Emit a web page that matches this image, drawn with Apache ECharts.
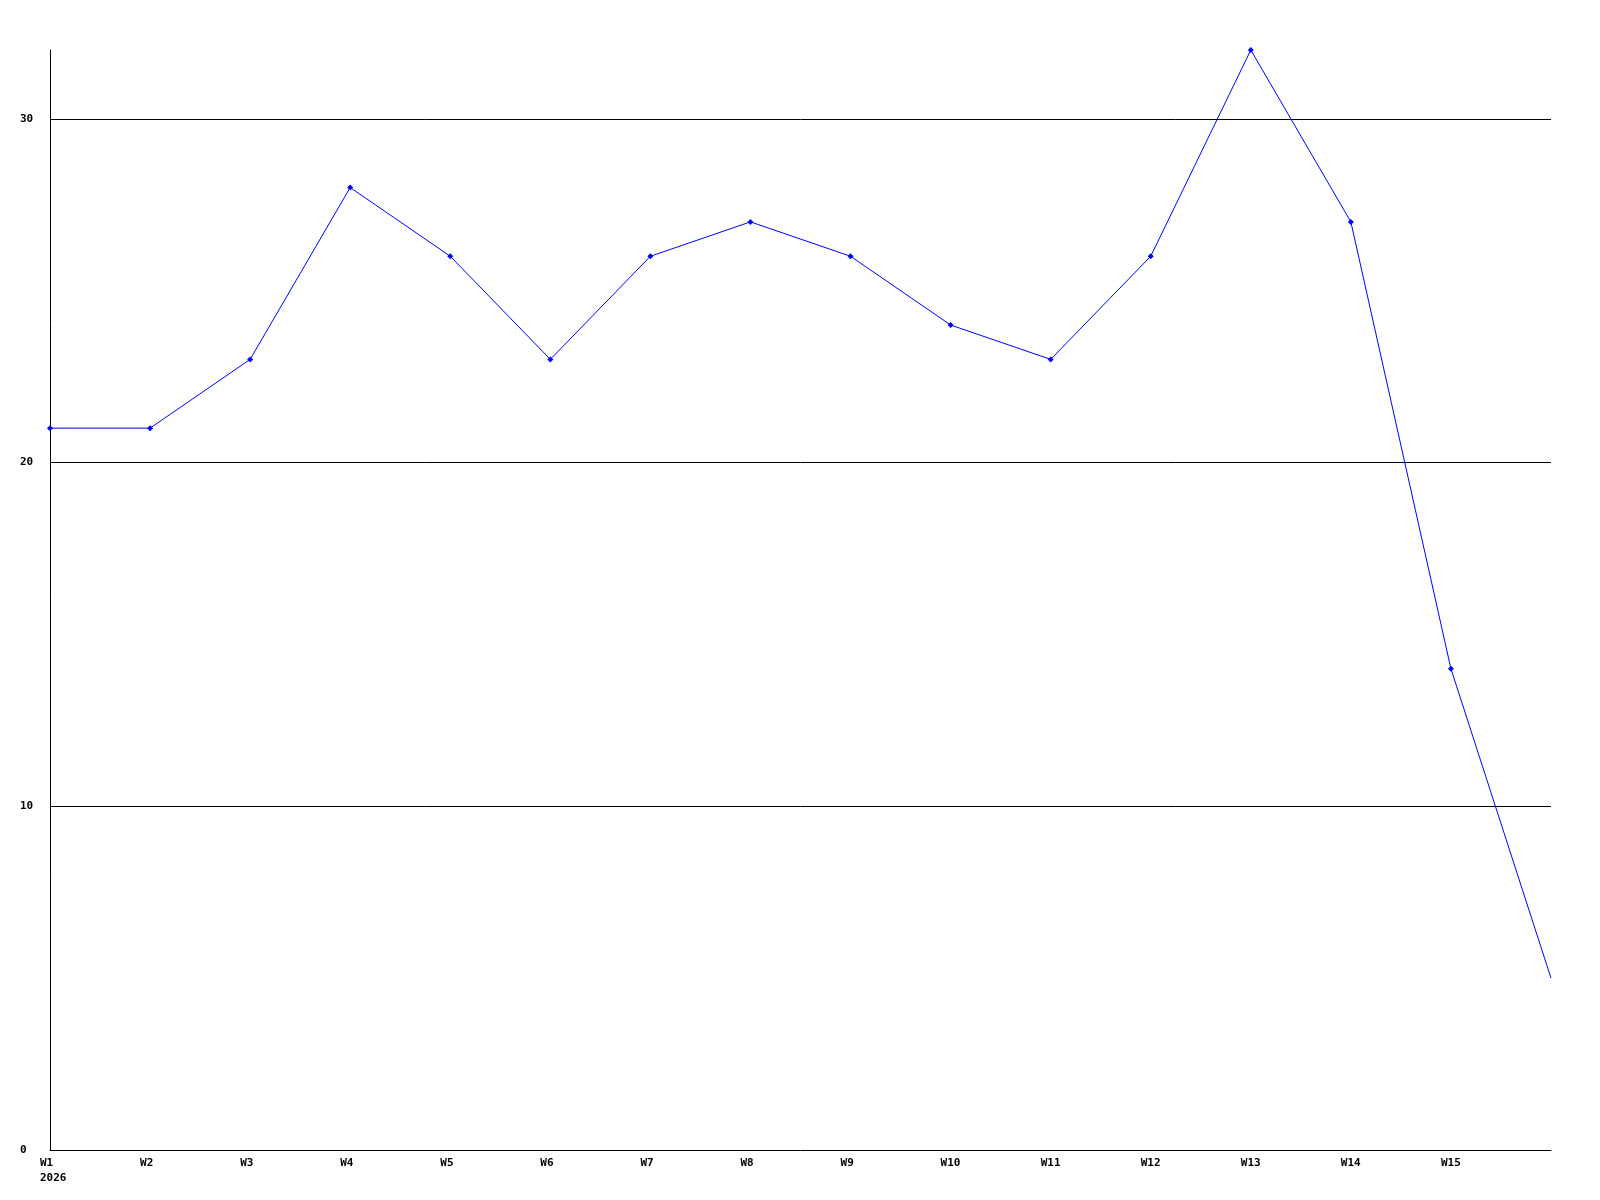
<!DOCTYPE html>
<html>
<head>
<meta charset="utf-8">
<script src="https://cdn.jsdelivr.net/npm/echarts@6/dist/echarts.min.js"></script>
<style>html,body{margin:0;padding:0;background:#fff;}#c{width:1600px;height:1200px;}</style>
</head>
<body>
<div id="c"></div>
<script>
const categories = ['W1\n2026','W2','W3','W4','W5','W6','W7','W8','W9','W10','W11','W12','W13','W14','W15',''];
const values = [21,21,23,28,26,23,26,27,26,24,23,26,32,27,14,5];
const yTicks = [0,10,20,30];
const yMax = 32;

const chart = echarts.init(document.getElementById('c'), null, {renderer:'canvas'});
const font = '"DejaVu Sans Mono", "Liberation Mono", monospace';
chart.setOption({
  animation: false,
  backgroundColor: '#fff',
  grid: {left: 50, right: 49, top: 50, bottom: 50, containLabel: false},
  xAxis: {
    type: 'category',
    data: categories,
    boundaryGap: false,
    axisLine: {show: true, lineStyle: {color: '#000', width: 1}},
    axisTick: {show: false},
    splitLine: {show: false},
    axisLabel: {
      interval: 0, align: 'left', margin: 6,
      padding: [0,0,0,-10],
      fontFamily: font, fontWeight: 'bold', fontSize: 11, color: '#000', lineHeight: 15
    }
  },
  yAxis: {
    type: 'value', min: 0, max: yMax, interval: 10,
    axisLine: {show: true, lineStyle: {color: '#000', width: 1}},
    axisTick: {show: false},
    splitLine: {show: true, showMinLine: false, showMaxLine: false, lineStyle: {color: '#000', width: 1}},
    axisLabel: {
      align: 'left', margin: 30, showMaxLabel: false,
      formatter: v => yTicks.includes(v) ? String(v) : '',
      fontFamily: font, fontWeight: 'bold', fontSize: 11, color: '#000'
    }
  },
  series: [{
    type: 'line',
    data: values.map((v, i) => i === values.length - 1 ? {value: v, symbol: 'none'} : v),
    symbol: 'diamond', symbolSize: 6, showAllSymbol: true,
    lineStyle: {color: '#0000ff', width: 1},
    itemStyle: {color: '#0000ff'},
    emphasis: {disabled: true}
  }]
});
</script>
</body>
</html>
